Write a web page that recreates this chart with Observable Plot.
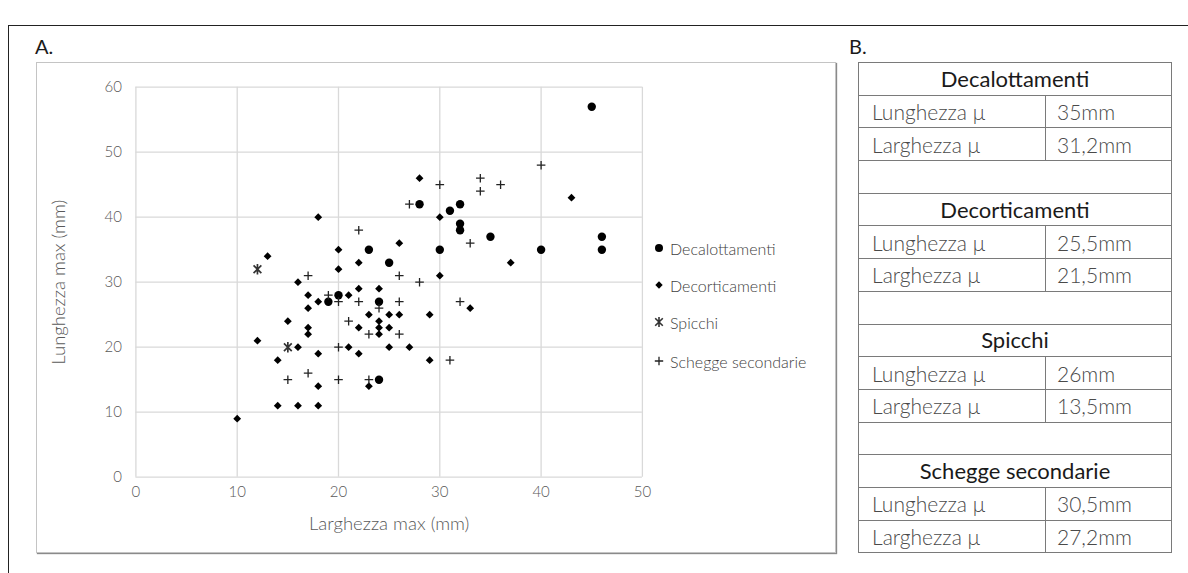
<!DOCTYPE html>
<html>
<head>
<meta charset="utf-8">
<script src="https://cdn.jsdelivr.net/npm/d3@7"></script>
<script src="https://cdn.jsdelivr.net/npm/@observablehq/plot@0.6"></script>
<style>
  html, body { margin: 0; padding: 0; background: #fff; }
  body { position: relative; width: 1188px; height: 573px; overflow: hidden; font-family: "Lato", "Open Sans", sans-serif; }
  .frame { position: absolute; left: 8px; top: 25px; width: 1300px; height: 700px; border-top: 1.5px solid #222; border-left: 1.5px solid #222; }
  .panel-label { position: absolute; top: 34px; font-size: 20px; color: #1a1a1a; font-weight: 400; }
  .box { position: absolute; left: 36px; top: 62px; width: 798px; height: 489px; border: 1px solid #c4c4c4; box-shadow: 1px 1px 1px #8a8a8a; }
  #chart { position: absolute; left: 36px; top: 62px; }
  #legend { position: absolute; left: 652px; top: 238px; }
  .lg { position: absolute; left: 0; height: 20px; display: flex; align-items: center; white-space: nowrap; font-size: 16px; font-weight: 300; color: #404040; }
  .lg svg { width: 16px; height: 20px; margin-right: 2px; }
  #tbl { position: absolute; left: 858px; top: 62px; border-collapse: collapse; width: 314px; border: 1.5px solid #333; }
  #tbl td { height: 31.7px; padding: 0; border: 1px solid #7a7a7a; font-size: 21px; line-height: 1; }
  #tbl td.h { text-align: center; font-weight: 400; color: #1a1a1a; font-size: 22px; }
  #tbl td.l { padding-left: 13px; width: 173px; font-weight: 300; color: #4a4a4a; }
  #tbl td.v { padding-left: 11px; font-weight: 300; color: #4a4a4a; }
</style>
</head>
<body>
<div class="frame"></div>
<div class="panel-label" style="left:35px">A.</div>
<div class="panel-label" style="left:849px">B.</div>
<div class="box"></div>
<div id="chart"></div>
<div id="legend"></div>
<table id="tbl"></table>
<script>
// ---- data (mm) ----
const decalottamentiX = [45, 46, 46, 40, 35, 32, 32, 32, 31, 28, 30, 25, 23, 20, 19, 24, 24];
const decalottamentiY = [57, 37, 35, 35, 37, 42, 39, 38, 41, 42, 35, 33, 35, 28, 27, 27, 15];

const decorticamentiX = [28, 43, 30, 18, 37, 26, 20, 22, 13, 20, 30, 16, 17, 21, 22, 24, 18, 17, 33, 23, 25, 26, 29, 24, 15, 22, 24, 25, 17, 17, 24, 12, 16, 21, 25, 27, 18, 22, 14, 29, 18, 23, 14, 16, 18, 10];
const decorticamentiY = [46, 43, 40, 40, 33, 36, 35, 33, 34, 32, 31, 30, 28, 28, 29, 29, 27, 26, 26, 25, 25, 25, 25, 24, 24, 23, 23, 23, 23, 22, 22, 21, 20, 20, 20, 20, 19, 19, 18, 18, 14, 14, 11, 11, 11, 9];

const spicchiX = [12, 15];
const spicchiY = [32, 20];

const scheggeX = [40, 34, 34, 36, 30, 27, 22, 33, 26, 28, 17, 19, 20, 22, 26, 24, 32, 21, 23, 26, 20, 31, 17, 15, 20, 23];
const scheggeY = [48, 46, 44, 45, 45, 42, 38, 36, 31, 30, 31, 28, 27, 27, 27, 26, 27, 24, 22, 22, 20, 18, 16, 15, 15, 15];

const xTicks = [0, 10, 20, 30, 40, 50];
const yTicks = [0, 10, 20, 30, 40, 50, 60];

const seriesNames = ["Decalottamenti", "Decorticamenti", "Spicchi", "Schegge secondarie"];
const lunghezzaMedia = ["35mm", "25,5mm", "26mm", "30,5mm"];
const larghezzaMedia = ["31,2mm", "21,5mm", "13,5mm", "27,2mm"];

// ---- helpers ----
const zip = (xs, ys) => xs.map((x, i) => ({x, y: ys[i]}));

const diamond = {draw(c, size) { const r = Math.sqrt(size / Math.PI); c.moveTo(0, -r); c.lineTo(r, 0); c.lineTo(0, r); c.lineTo(-r, 0); c.closePath(); }};
const plus = {draw(c, size) { const r = Math.sqrt(size / Math.PI); c.moveTo(-r, 0); c.lineTo(r, 0); c.moveTo(0, -r); c.lineTo(0, r); }};
const star = {draw(c, size) { const r = Math.sqrt(size / Math.PI); const k = r * 0.75; c.moveTo(-k, -k); c.lineTo(k, k); c.moveTo(-k, k); c.lineTo(k, -k); c.moveTo(0, -r); c.lineTo(0, r); }};

const W = 800, H = 490;
const chart = Plot.plot({
  width: W, height: H,
  marginLeft: 99.4, marginRight: W - 605.9, marginTop: 24.7, marginBottom: H - 414.7,
  style: {fontFamily: "Lato, sans-serif", fontSize: "15px", color: "#595959", background: "transparent", fontWeight: 300},
  x: {domain: [0, 50]},
  y: {domain: [0, 60]},
  marks: [
    Plot.gridX(xTicks, {stroke: "#d9d9d9", strokeOpacity: 1, strokeWidth: 1.3}),
    Plot.gridY(yTicks, {stroke: "#d9d9d9", strokeOpacity: 1, strokeWidth: 1.3}),
    Plot.axisX({ticks: xTicks, tickSize: 0, tickPadding: 9, label: null, fontSize: 15}),
    Plot.axisY({ticks: yTicks, tickSize: 0, tickPadding: 14, label: null, fontSize: 15}),
    Plot.axisX({ticks: [], label: "Larghezza max (mm)", labelAnchor: "center", labelArrow: "none", labelOffset: 53, fontSize: 18.5}),
    Plot.axisY({ticks: [], label: "Lunghezza max (mm)", labelAnchor: "center", labelArrow: "none", labelOffset: 84, fontSize: 18.5}),
    Plot.dot(zip(decalottamentiX, decalottamentiY), {x: "x", y: "y", r: 4.2, fill: "#000", stroke: "none"}),
    Plot.dot(zip(decorticamentiX, decorticamentiY), {x: "x", y: "y", symbol: diamond, r: 3.9, fill: "#000", stroke: "none"}),
    Plot.dot(zip(spicchiX, spicchiY), {x: "x", y: "y", symbol: star, r: 5.2, fill: "none", stroke: "#333", strokeWidth: 1.7}),
    Plot.dot(zip(scheggeX, scheggeY), {x: "x", y: "y", symbol: plus, r: 4.3, fill: "none", stroke: "#222", strokeWidth: 1.3})
  ]
});
document.getElementById("chart").appendChild(chart);

// ---- legend ----
const legendSymbols = [
  '<circle cx="7" cy="10" r="4" fill="#000"/>',
  '<path d="M7,6.3L10.7,10L7,13.7L3.3,10Z" fill="#000"/>',
  '<path d="M3.2,6.2L10.8,13.8M3.2,13.8L10.8,6.2M7,5V15" stroke="#333" stroke-width="1.6" fill="none"/>',
  '<path d="M2.8,10H11.2M7,5.8V14.2" stroke="#222" stroke-width="1.3" fill="none"/>'
];
const legendTops = [0, 37, 74, 113];
const legend = document.getElementById("legend");
seriesNames.forEach((name, i) => {
  const d = document.createElement("div");
  d.className = "lg";
  d.style.top = legendTops[i] + "px";
  d.innerHTML = `<svg viewBox="0 0 16 20">${legendSymbols[i]}</svg><span>${name}</span>`;
  legend.appendChild(d);
});

// ---- table B ----
const tbl = document.getElementById("tbl");
seriesNames.forEach((name, i) => {
  if (i > 0) tbl.insertAdjacentHTML("beforeend", `<tr><td colspan="2"></td></tr>`);
  tbl.insertAdjacentHTML("beforeend", `<tr><td class="h" colspan="2">${name}</td></tr>`);
  tbl.insertAdjacentHTML("beforeend", `<tr><td class="l">Lunghezza μ</td><td class="v">${lunghezzaMedia[i]}</td></tr>`);
  tbl.insertAdjacentHTML("beforeend", `<tr><td class="l">Larghezza μ</td><td class="v">${larghezzaMedia[i]}</td></tr>`);
});
</script>
</body>
</html>
